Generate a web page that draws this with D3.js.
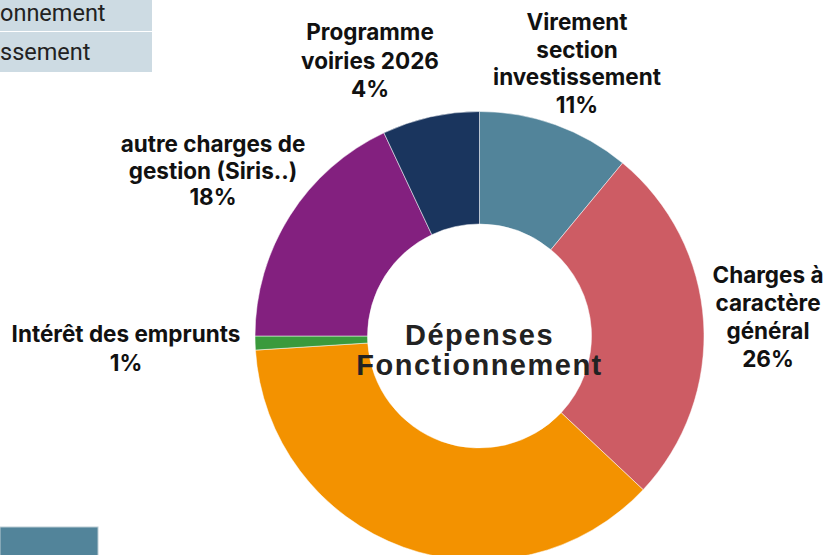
<!DOCTYPE html>
<html>
<head>
<meta charset="utf-8">
<script src="https://cdn.jsdelivr.net/npm/d3@7"></script>
<style>
  body { margin: 0; background: #fff; }
  svg { display: block; }
</style>
</head>
<body>
<svg id="chart" width="828" height="555"></svg>
<script>
// slice data, clockwise from 12 o'clock
const categories = ["Virement section investissement", "Charges à caractère général", "Autres", "Intérêt des emprunts", "autre charges de gestion (Siris..)", "Programme voiries 2026"];
const values = [11, 26, 37, 1, 18, 7];
const pctLabels = ["11%", "26%", "", "1%", "18%", "4%"];
const labelLines = [
    ["Virement", "section", "investissement"],
    ["Charges à", "caractère", "général"],
    [],
    ["Intérêt des emprunts"],
    ["autre charges de", "gestion (Siris..)"],
    ["Programme", "voiries 2026"]
];
const colors = ["#52849a", "#cd5c64", "#f39200", "#3a9a3c", "#83207f", "#1a355e"];
// only the ends of these table cells are inside the picture
const tableRows = ["onnement", "ssement"];

let svg = d3.select("#chart");
let cx = 479.5, cy = 336, rOut = 224.5, rIn = 112;

// pieces of the slide that peek in at the left
let gTable = svg.append("g").attr("id", "g_table");
gTable.selectAll("rect").data(tableRows).join("rect")
    .attr("x", 0)
    .attr("y", (d, i) => i == 0 ? -10 : 32)
    .attr("width", 152)
    .attr("height", (d, i) => i == 0 ? 41 : 40)
    .attr("fill", "#cddbe3");
gTable.selectAll("text").data(tableRows).join("text")
    .attr("x", 0)
    .attr("y", (d, i) => i == 0 ? 21 : 60)
    .attr("text-anchor", "start")
    .style("font-family", "Roboto, sans-serif")
    .style("font-size", "23.5px")
    .style("fill", "#222")
    .text(d => d);

svg.append("rect")
    .attr("x", 0).attr("y", 527)
    .attr("width", 98).attr("height", 30)
    .attr("fill", "#52849a")
    .attr("stroke", "#b9cbd3")
    .attr("stroke-width", 1);

// donut
let pie = d3.pie().sort(null).value(d => d)(values);
let arc = d3.arc().innerRadius(rIn).outerRadius(rOut);

let gPie = svg.append("g").attr("transform", `translate(${cx},${cy})`);
gPie.selectAll("path").data(pie).join("path")
    .attr("d", arc)
    .attr("fill", (d, i) => colors[i])
    .attr("stroke", "#fff")
    .attr("stroke-width", 0.5);

gPie.selectAll("text.center").data(["Dépenses", "Fonctionnement"]).join("text")
    .attr("class", "center")
    .attr("x", 0)
    .attr("y", (d, i) => 9 + i * 30)
    .attr("text-anchor", "middle")
    .style("font-family", "'Liberation Sans', Arial, sans-serif")
    .style("font-weight", "bold")
    .style("font-size", "29px")
    .style("letter-spacing", "1.5px")
    .style("fill", "#222")
    .text(d => d);

// slice labels (centre x, first baseline, line step)
const labelPos = [
    [577, 30, 27.5],
    [768, 283, 28],
    null,
    [126, 342, 29],
    [213, 152, 26.5],
    [370, 40, 28.5]
];

let gLabels = svg.append("g").attr("id", "g_labels");
labelLines.forEach((lines, i) => {
    if (!labelPos[i]) return;
    let [lx, ly, step] = labelPos[i];
    let all = lines.concat([pctLabels[i]]);
    gLabels.append("g").selectAll("text").data(all).join("text")
        .attr("x", lx)
        .attr("y", (d, j) => ly + j * step)
        .attr("text-anchor", "middle")
        .style("font-family", "Inter, sans-serif")
        .style("font-weight", "bold")
        .style("font-size", "22.5px")
        .style("fill", "#111")
        .text(d => d);
});
</script>
</body>
</html>
